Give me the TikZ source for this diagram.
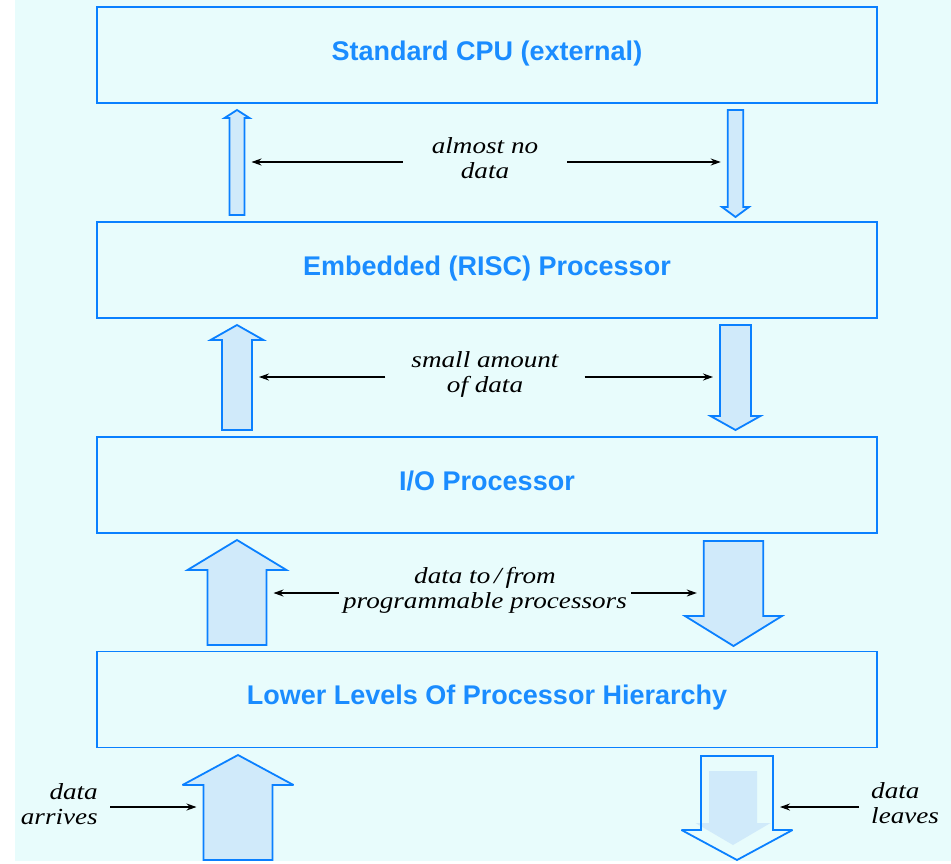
\documentclass[tikz,border=0pt]{standalone}
\usepackage{fontspec}
\setmainfont{Liberation Serif}
\newfontfamily\boxfont{Liberation Sans}
\newfontfamily\notefont{Liberation Serif}[FakeStretch=1.18]
\usetikzlibrary{arrows.meta}
\definecolor{pagebg}{RGB}{232,252,252}
\definecolor{boxline}{RGB}{10,128,255}
\definecolor{boxtext}{RGB}{26,140,255}
\definecolor{flowfill}{RGB}{208,234,250}
\newcommand{\blockarrow}[7][]{%
  \draw[#1] (#2-#6,#3) -- (#2-#6,#4) -- (#2-#7,#4) -- (#2,#5) -- (#2+#7,#4) -- (#2+#6,#4) -- (#2+#6,#3) -- cycle;}
\begin{document}
\begin{tikzpicture}[x=1pt, y=-1pt, >={Stealth[length=10pt,width=7pt]},
  layer/.style={draw=boxline, line width=1.8pt, minimum width=780pt, minimum height=96pt, inner sep=0pt,
    text=boxtext, font=\boxfont\bfseries\fontsize{27}{30}\selectfont, text height=20pt, text depth=10pt},
  note/.style={inner ysep=0pt, align=center, font=\notefont\itshape\fontsize{23}{25}\selectfont},
  conn/.style={->, line width=1.1pt, shorten >=7pt},
  flow/.style={draw=boxline, line width=1.8pt, fill=flowfill, miter limit=4}]
\useasboundingbox (0,0) rectangle (951,863);
\fill[pagebg] (15,0) rectangle (951,861);

\node[layer] (cpu) at (487,55) {Standard CPU (external)};
\node[layer] (risc) at (487,270) {Embedded (RISC) Processor};
\node[layer] (iop) at (487,485) {I/O Processor};
\node[layer] (low) at (487,699.5) {Lower Levels Of Processor Hierarchy};

\blockarrow[flow]{237}{215}{118}{110}{7.5}{12.5}
\blockarrow[flow]{735.5}{110}{207}{217}{7.75}{13.5}
\blockarrow[flow]{237}{430}{340}{325}{15}{26.5}
\blockarrow[flow]{735.5}{325}{416}{430}{15.5}{25}
\blockarrow[flow]{237}{645}{570}{540}{29.5}{49.5}
\blockarrow[flow]{733.5}{541}{616}{646}{29.7}{48.5}
\blockarrow[flow]{238}{860}{785}{755}{34.5}{55.5}
\blockarrow[draw=none, fill=flowfill]{733}{771}{823}{845}{24}{37.5}
\blockarrow[flow, fill=none]{737}{756}{830}{860}{36}{55.5}

\coordinate (up1) at (244.5,162);
\coordinate (dn1) at (727.75,162);
\coordinate (up2) at (252,377);
\coordinate (dn2) at (720,377);
\coordinate (up3) at (266.5,593);
\coordinate (dn3) at (703.8,593);
\coordinate (up4) at (203.5,807);
\coordinate (dn4) at (773,807);

\node[note, inner xsep=29pt] (few) at (485,158) {almost no\\data};
\node[note, inner xsep=26pt] (small) at (485,374.5) {small amount\\of data};
\node[note, inner xsep=4pt] (prog) at (485,590) {data to\,/\,from\\programmable processors};
\node[note, inner xsep=12pt, align=right, anchor=east] (arrive) at (110,804) {data\\arrives};
\node[note, inner xsep=12pt, align=left, anchor=west] (leave) at (859,803) {data\\leaves};

\draw[conn] (few.west |- up1) -- (up1);
\draw[conn] (few.east |- dn1) -- (dn1);
\draw[conn] (small.west |- up2) -- (up2);
\draw[conn] (small.east |- dn2) -- (dn2);
\draw[conn] (prog.west |- up3) -- (up3);
\draw[conn] (prog.east |- dn3) -- (dn3);
\draw[conn] (arrive.east |- up4) -- (up4);
\draw[conn] (leave.west |- dn4) -- (dn4);
\end{tikzpicture}
\end{document}
